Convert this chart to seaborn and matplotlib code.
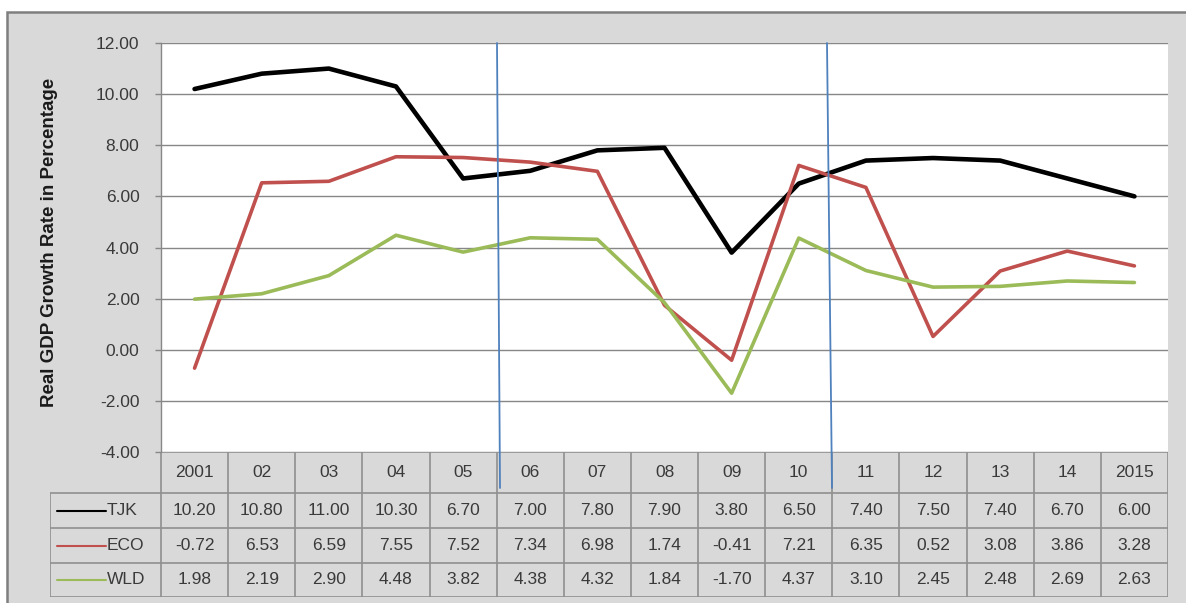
import numpy as np
import pandas as pd
import matplotlib
matplotlib.use("Agg")
import matplotlib.pyplot as plt
import seaborn as sns
from matplotlib.patches import Rectangle

# ---- data ----
years = ["2001", "02", "03", "04", "05", "06", "07", "08", "09", "10",
         "11", "12", "13", "14", "2015"]
tjk = [10.20, 10.80, 11.00, 10.30, 6.70, 7.00, 7.80, 7.90, 3.80, 6.50,
       7.40, 7.50, 7.40, 6.70, 6.00]
eco = [-0.72, 6.53, 6.59, 7.55, 7.52, 7.34, 6.98, 1.74, -0.41, 7.21,
       6.35, 0.52, 3.08, 3.86, 3.28]
wld = [1.98, 2.19, 2.90, 4.48, 3.82, 4.38, 4.32, 1.84, -1.70, 4.37,
       3.10, 2.45, 2.48, 2.69, 2.63]
series_names = ["TJK", "ECO", "WLD"]
yticks = [-4, -2, 0, 2, 4, 6, 8, 10, 12]
y_label = "Real GDP Growth Rate in Percentage"

colors = {"TJK": "#000000", "ECO": "#C0504D", "WLD": "#9BBB59"}
widths = {"TJK": 3.3, "ECO": 2.6, "WLD": 2.6}
BG = "#D9D9D9"
GRID = "#878787"
TXT = "#3a3a3a"
FS = 12.5

values = {"TJK": tjk, "ECO": eco, "WLD": wld}
df = pd.DataFrame([
    {"pos": i, "year": y, "series": s, "value": values[s][i]}
    for s in series_names for i, y in enumerate(years)
])

sns.set_theme(style="white")
plt.rcParams['font.family'] = ['Liberation Sans', 'DejaVu Sans']

W, H = 1186, 603
fig = plt.figure(figsize=(W / 100, H / 100), dpi=100)
fig.patch.set_facecolor("white")


def fx(px):
    return px / W


def fy(py):
    return 1 - py / H


# grey chart-area panel with frame on top/left
fig.patches.append(Rectangle((fx(7), -0.02), (W + 20 - 7) / W, fy(12) + 0.02,
                             transform=fig.transFigure, facecolor=BG,
                             edgecolor="#7f7f7f", lw=1.8, zorder=0))

# ---- main plot ----
L, R, T, B = 161, 1168, 43, 452
ax = fig.add_axes([fx(L), fy(B), (R - L) / W, (B - T) / H])
ax.set_zorder(3)
ax.set_facecolor("white")
for s in series_names:
    sns.lineplot(data=df[df["series"] == s], x="pos", y="value",
                 color=colors[s], linewidth=widths[s], ax=ax,
                 legend=False, zorder=4)
ax.set_xlim(-0.5, len(years) - 0.5)
ax.set_ylim(yticks[0], yticks[-1])
ax.set_yticks(yticks)
ax.set_yticklabels([f"{v:.2f}" for v in yticks], fontsize=FS, color=TXT)
ax.set_xticks([])
ax.set_xlabel("")
ax.set_ylabel("")
ax.yaxis.grid(True, color=GRID, lw=1.0)
ax.set_axisbelow(True)
for sp in ["top", "right", "bottom"]:
    ax.spines[sp].set_visible(False)
ax.spines["left"].set_color(GRID)
ax.spines["left"].set_linewidth(1.0)
ax.tick_params(axis="y", left=True, length=4.5, width=1.0, color=GRID, pad=11)

# blue period separators
px_per_cat = (R - L) / len(years)
px_per_unit = (B - T) / (yticks[-1] - yticks[0])


def cx(px):
    return (px - L) / px_per_cat - 0.5


y_bottom = yticks[0] - (488 - B) / px_per_unit
for top_px, bot_px in [(497, 500), (827, 832)]:
    ax.plot([cx(top_px), cx(bot_px)], [yticks[-1], y_bottom], color="#4F81BD",
            lw=1.3, clip_on=False, zorder=6)

fig.text(fx(50), fy(242), y_label, rotation=90, ha="center", va="center",
         fontsize=13.5, fontweight="bold", color="#1a1a1a")

# ---- data table ----
TL, TB = 50, 597
tax = fig.add_axes([fx(TL), fy(TB), (R - TL) / W, (TB - B) / H])
tax.set_zorder(2)
tax.set_facecolor("none")
x0 = -0.5 - (L - TL) / px_per_cat
tax.set_xlim(x0, len(years) - 0.5)
row_edges = [0, 41, 76, 111, 145]
tax.set_ylim(row_edges[-1], 0)
tax.axis("off")

TGRID = "#8f8f8f"
n = len(years)
tax.hlines(row_edges[0], -0.5, n - 0.5, color=TGRID, lw=1.2)
tax.hlines(row_edges[1:], x0, n - 0.5, color=TGRID, lw=1.2)
tax.vlines([k - 0.5 for k in range(n + 1)], row_edges[0], row_edges[-1],
           color=TGRID, lw=1.2)
tax.vlines(x0, row_edges[1], row_edges[-1], color=TGRID, lw=1.2)

for i, y in enumerate(years):
    tax.text(i, (row_edges[0] + row_edges[1]) / 2, y, ha="center",
             va="center", fontsize=FS, color=TXT)


def tx(px):
    return x0 + (px - TL) / px_per_cat


for r, s in enumerate(series_names):
    ymid = (row_edges[r + 1] + row_edges[r + 2]) / 2
    tax.plot([tx(57), tx(106)], [ymid, ymid], color=colors[s], lw=1.5)
    tax.text(tx(107), ymid, s, ha="left", va="center", fontsize=FS, color=TXT)
    for i, v in enumerate(values[s]):
        tax.text(i, ymid, f"{v:.2f}", ha="center", va="center",
                 fontsize=FS, color=TXT)

fig.savefig("out.png", dpi=100, facecolor=fig.get_facecolor())
